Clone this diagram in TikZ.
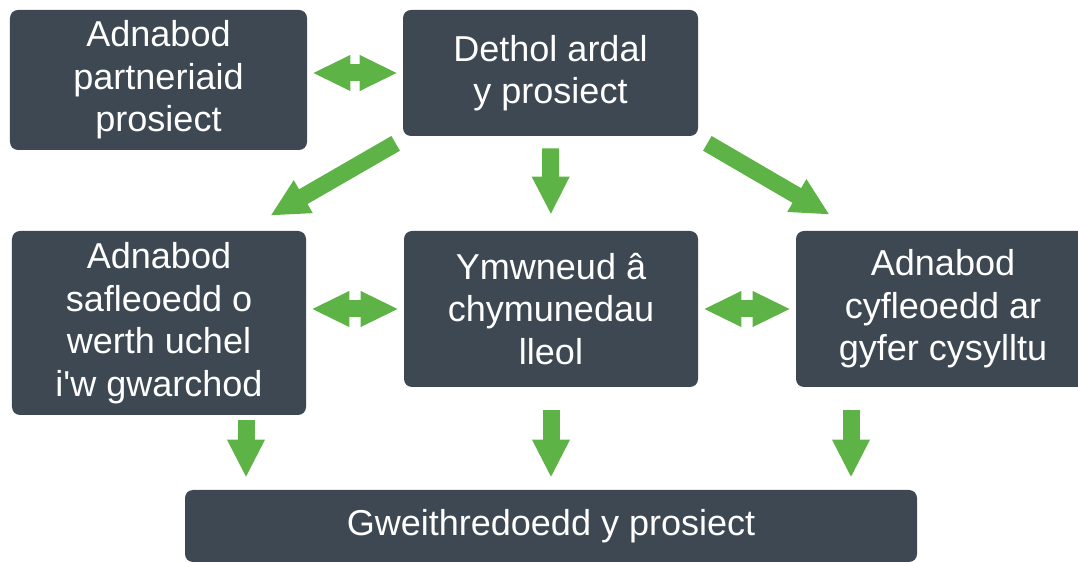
\documentclass[tikz,border=0pt]{standalone}
\usepackage{fontspec}
\setmainfont{Liberation Sans}[Ligatures=TeXOff]
\usepackage{tikz}
\usetikzlibrary{arrows.meta,positioning}
\definecolor{boxgrey}{HTML}{3D4852}
\definecolor{arrowgreen}{HTML}{5DB346}
\tikzset{
  stage/.style={fill=boxgrey,text=white,rounded corners=0.16cm,align=center,
    font=\fontsize{20.5}{24.2}\selectfont,inner sep=0pt},
  flow/.style={draw=arrowgreen,line width=0.34cm,
    -{Triangle[length=0.76cm,width=0.7cm]}},
  both/.style={draw=arrowgreen,line width=0.34cm,
    {Triangle[length=0.76cm,width=0.66cm]}-{Triangle[length=0.76cm,width=0.66cm]},
    shorten <=0.1cm,shorten >=0.1cm},
}

\begin{document}
\begin{tikzpicture}
      \useasboundingbox (0,0) rectangle (21.56,-11.24);
      \node[stage,minimum width=5.94cm,minimum height=2.8cm] (partner) at (3.17,-1.6) {Adnabod\\partneriaid\\prosiect};
      \node[stage,minimum width=5.9cm,minimum height=2.52cm] (ardal) at (11.01,-1.46) {Dethol ardal\\y prosiect};
      \node[stage,minimum width=5.88cm,minimum height=3.68cm] (safle) at (3.18,-6.46) {Adnabod\\safleoedd o\\werth uchel\\i'w gwarchod};
      \node[stage,minimum width=5.88cm,minimum height=3.12cm] (cymuned) at (11.02,-6.18) {Ymwneud â\\chymunedau\\lleol};
      \node[stage,minimum width=5.88cm,minimum height=3.12cm] (cyswllt) at (18.86,-6.18) {Adnabod\\cyfleoedd ar\\gyfer cysylltu};
      \node[stage,minimum width=14.64cm,minimum height=1.44cm] (gweith) at (11.02,-10.52) {Gweithredoedd y prosiect};
      \coordinate (l) at ([xshift=1.74cm]safle.south);
      \coordinate (r) at ([xshift=-1.84cm]cyswllt.south);
      \draw[both] (partner.east |- ardal.west) -- (ardal.west);
      \draw[both] (safle.east |- cymuned.west) -- (cymuned.west);
      \draw[both] (cymuned.east) -- (cyswllt.west);
      \draw[flow] ([shift={(-0.14,-0.14)}]ardal.south west) -- ([shift={(-0.72,0.3)}]safle.north east);
      \draw[flow] ([shift={(0.18,-0.14)}]ardal.south east) -- ([shift={(0.68,0.32)}]cyswllt.north west);
      \draw[flow,shorten <=0.24cm,shorten >=0.32cm] (ardal.south) -- (cymuned.north);
      \draw[flow,shorten <=0.1cm,shorten >=0.24cm] (l) -- (l |- gweith.north);
      \draw[flow,shorten <=0.46cm,shorten >=0.24cm] (cymuned.south) -- (cymuned.south |- gweith.north);
      \draw[flow,shorten <=0.46cm,shorten >=0.24cm] (r) -- (r |- gweith.north);
\end{tikzpicture}
\end{document}
